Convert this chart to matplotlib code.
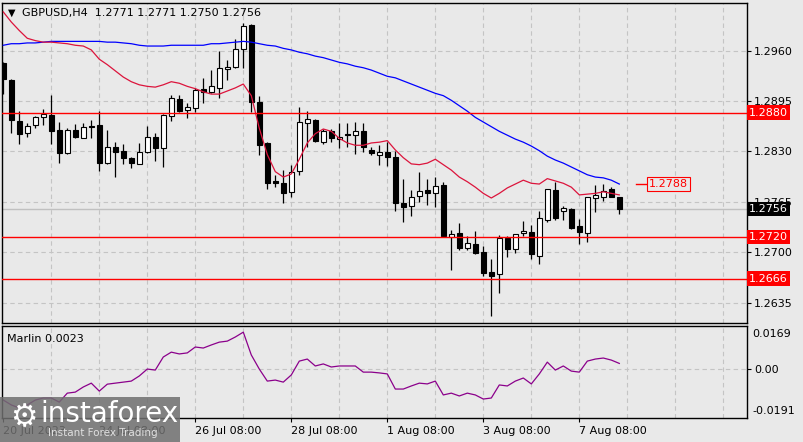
import matplotlib.pyplot as plt
from matplotlib.patches import Rectangle

# GBPUSD H4 candles
opens = [1.2944, 1.2922, 1.2869, 1.2854, 1.2864, 1.2874, 1.2877, 1.2858, 1.2828, 1.2858,
         1.2847, 1.2863, 1.2864, 1.2815, 1.2836, 1.2831, 1.2822, 1.2814, 1.2829, 1.2849,
         1.2835, 1.2876, 1.2898, 1.2884, 1.2886, 1.2911, 1.2907, 1.2912, 1.2936, 1.2939,
         1.2962, 1.2993, 1.2894, 1.2841, 1.2792, 1.2789, 1.2778, 1.2805, 1.2867, 1.2871,
         1.2842, 1.2856, 1.2846, 1.2853, 1.2851, 1.2856, 1.2832, 1.2826, 1.2829, 1.2823,
         1.2764, 1.2760, 1.2773, 1.2780, 1.2776, 1.2787, 1.2720, 1.2725, 1.2706, 1.2711,
         1.2700, 1.2675, 1.2672, 1.2718, 1.2704, 1.2725, 1.2726, 1.2695, 1.2742, 1.2780,
         1.2753, 1.2756, 1.2734, 1.2725, 1.2770, 1.2771, 1.2782, 1.2771]
highs = [1.2945, 1.2924, 1.2882, 1.2867, 1.2876, 1.2885, 1.2903, 1.2868, 1.2860, 1.2865,
         1.2867, 1.2871, 1.2882, 1.2858, 1.2842, 1.2840, 1.2823, 1.2841, 1.2863, 1.2854,
         1.2878, 1.2903, 1.2903, 1.2893, 1.2912, 1.2925, 1.2935, 1.2960, 1.2948, 1.2975,
         1.2996, 1.2994, 1.2902, 1.2842, 1.2800, 1.2806, 1.2813, 1.2887, 1.2882, 1.2872,
         1.2859, 1.2859, 1.2867, 1.2867, 1.2868, 1.2867, 1.2836, 1.2838, 1.2842, 1.2831,
         1.2795, 1.2780, 1.2804, 1.2795, 1.2797, 1.2791, 1.2729, 1.2738, 1.2721, 1.2727,
         1.2708, 1.2691, 1.2722, 1.2721, 1.2724, 1.2740, 1.2735, 1.2753, 1.2782, 1.2791,
         1.2760, 1.2757, 1.2743, 1.2771, 1.2787, 1.2788, 1.2784, 1.2771]
lows = [1.2904, 1.2854, 1.2840, 1.2849, 1.2860, 1.2864, 1.2840, 1.2815, 1.2827, 1.2847,
        1.2847, 1.2847, 1.2805, 1.2814, 1.2797, 1.2814, 1.2809, 1.2814, 1.2828, 1.2818,
        1.2810, 1.2869, 1.2881, 1.2873, 1.2881, 1.2893, 1.2905, 1.2899, 1.2922, 1.2938,
        1.2938, 1.2881, 1.2826, 1.2782, 1.2784, 1.2764, 1.2771, 1.2800, 1.2836, 1.2842,
        1.2840, 1.2842, 1.2835, 1.2836, 1.2827, 1.2829, 1.2826, 1.2813, 1.2811, 1.2753,
        1.2739, 1.2747, 1.2765, 1.2761, 1.2758, 1.2720, 1.2677, 1.2703, 1.2703, 1.2698,
        1.2669, 1.2618, 1.2648, 1.2694, 1.2699, 1.2721, 1.2691, 1.2685, 1.2739, 1.2742,
        1.2742, 1.2730, 1.2711, 1.2713, 1.2752, 1.2766, 1.2771, 1.2750]
closes = [1.2924, 1.2871, 1.2853, 1.2863, 1.2874, 1.2878, 1.2856, 1.2828, 1.2858, 1.2849,
          1.2862, 1.2862, 1.2815, 1.2836, 1.2829, 1.2822, 1.2815, 1.2829, 1.2849, 1.2835,
          1.2877, 1.2899, 1.2882, 1.2887, 1.2909, 1.2907, 1.2915, 1.2938, 1.2939, 1.2962,
          1.2992, 1.2894, 1.2838, 1.2789, 1.2790, 1.2776, 1.2804, 1.2868, 1.2872, 1.2844,
          1.2856, 1.2847, 1.2849, 1.2851, 1.2856, 1.2836, 1.2828, 1.2829, 1.2823, 1.2764,
          1.2758, 1.2771, 1.2779, 1.2776, 1.2785, 1.2721, 1.2724, 1.2706, 1.2712, 1.2699,
          1.2673, 1.2669, 1.2718, 1.2704, 1.2724, 1.2727, 1.2698, 1.2744, 1.2782, 1.2744,
          1.2757, 1.2731, 1.2726, 1.2771, 1.2774, 1.2779, 1.2771, 1.2756]

# moving averages on the price chart
ma_fast = [1.3010, 1.2997, 1.2986, 1.2976, 1.2973, 1.2971, 1.2971, 1.2970, 1.2969, 1.2967,
           1.2966, 1.2961, 1.2949, 1.2942, 1.2934, 1.2926, 1.2920, 1.2916, 1.2914, 1.2913,
           1.2916, 1.2920, 1.2918, 1.2914, 1.2911, 1.2907, 1.2904, 1.2904, 1.2908, 1.2912,
           1.2917, 1.2902, 1.2860, 1.2826, 1.2804, 1.2797, 1.2801, 1.2820, 1.2841, 1.2853,
           1.2859, 1.2856, 1.2847, 1.2841, 1.2838, 1.2838, 1.2841, 1.2842, 1.2844, 1.2832,
           1.2822, 1.2814, 1.2813, 1.2815, 1.2820, 1.2813, 1.2806, 1.2797, 1.2791, 1.2784,
           1.2776, 1.2770, 1.2776, 1.2783, 1.2788, 1.2793, 1.2789, 1.2788, 1.2795, 1.2792,
           1.2789, 1.2784, 1.2774, 1.2775, 1.2776, 1.2778, 1.2776, 1.2774]
ma_slow = [1.2967, 1.2969, 1.2969, 1.2970, 1.2970, 1.2971, 1.2972, 1.2972, 1.2972, 1.2972,
           1.2972, 1.2972, 1.2972, 1.2971, 1.2971, 1.2970, 1.2969, 1.2967, 1.2966, 1.2966,
           1.2966, 1.2967, 1.2967, 1.2967, 1.2967, 1.2967, 1.2969, 1.2969, 1.2970, 1.2971,
           1.2972, 1.2971, 1.2969, 1.2967, 1.2966, 1.2963, 1.2961, 1.2958, 1.2956, 1.2953,
           1.2951, 1.2948, 1.2945, 1.2943, 1.2940, 1.2938, 1.2935, 1.2931, 1.2927, 1.2925,
           1.2921, 1.2917, 1.2913, 1.2909, 1.2905, 1.2902, 1.2896, 1.2889, 1.2882, 1.2874,
           1.2868, 1.2862, 1.2856, 1.2851, 1.2846, 1.2842, 1.2837, 1.2831, 1.2824, 1.2819,
           1.2815, 1.2810, 1.2805, 1.2800, 1.2797, 1.2796, 1.2793, 1.2788]

# Marlin oscillator
marlin = [-0.0120, -0.0139, -0.0151, -0.0139, -0.0120, -0.0112, -0.0112, -0.0128, -0.0093, -0.0089,
          -0.0069, -0.0054, -0.0085, -0.0058, -0.0054, -0.0050, -0.0046, -0.0026, 0.0001, -0.0003,
          0.0048, 0.0067, 0.0060, 0.0064, 0.0087, 0.0083, 0.0095, 0.0106, 0.0110, 0.0126,
          0.0145, 0.0056, 0.0001, -0.0046, -0.0042, -0.0050, -0.0022, 0.0032, 0.0040, 0.0013,
          0.0021, 0.0009, 0.0013, 0.0013, 0.0013, -0.0011, -0.0011, -0.0014, -0.0018, -0.0077,
          -0.0077, -0.0065, -0.0054, -0.0057, -0.0046, -0.0100, -0.0093, -0.0104, -0.0093, -0.0100,
          -0.0116, -0.0112, -0.0061, -0.0065, -0.0046, -0.0034, -0.0057, -0.0018, 0.0028, -0.0003,
          0.0013, -0.0007, -0.0011, 0.0032, 0.0040, 0.0044, 0.0036, 0.0023]

levels = [1.2880, 1.2720, 1.2666]
last_price = 1.2756
ma_label = 1.2788
price_ticks = [1.2635, 1.2700, 1.2765, 1.2830, 1.2895, 1.2960]
date_pos = [0, 12, 24, 36, 48, 60, 72]
date_labels = ['20 Jul 2023', '24 Jul 08:00', '26 Jul 08:00', '28 Jul 08:00',
               '1 Aug 08:00', '3 Aug 08:00', '7 Aug 08:00']

bg = '#e9e9e9'
W, H = 804, 442


def box(l, t, r, b):
    return [l / W, 1 - b / H, (r - l) / W, (b - t) / H]


fig = plt.figure(figsize=(W / 100, H / 100), dpi=100, facecolor=bg)
ax = fig.add_axes(box(2, 3, 747, 323), facecolor=bg)
ax2 = fig.add_axes(box(2, 326, 747, 418), facecolor=bg)

x = list(range(len(opens)))
xlim = (-0.16, 92.96)

# candles
for i in x:
    o, h, l, c = opens[i], highs[i], lows[i], closes[i]
    ax.vlines(i, l, h, color='black', lw=0.9, zorder=2)
    if abs(c - o) < 0.00005:
        ax.hlines(o, i - 0.3, i + 0.3, color='black', lw=1, zorder=3)
    else:
        fc = 'white' if c > o else 'black'
        ax.add_patch(Rectangle((i - 0.28, min(o, c)), 0.56, abs(c - o),
                               facecolor=fc, edgecolor='black', lw=0.8, zorder=3))

ax.plot(x, ma_slow, color='#0000ff', lw=0.9, zorder=4)
ax.plot(x, ma_fast, color='#dc143c', lw=0.9, zorder=4)
for lv in levels:
    ax.axhline(lv, color='#ff0000', lw=1, zorder=5)
ax.axhline(last_price, color='#c0c0c0', lw=1, zorder=1)

# grid
for a in (ax, ax2):
    for g in range(6, 93, 6):
        a.axvline(g, color='#c4c4c4', lw=0.8, ls=(0, (4, 3)), zorder=0)
    a.set_xlim(*xlim)
    for s in a.spines.values():
        s.set_color('black')
        s.set_linewidth(1)
for p in price_ticks:
    ax.axhline(p, color='#c4c4c4', lw=0.8, ls=(0, (4, 3)), zorder=0)
ax2.axhline(0, color='#c4c4c4', lw=0.8, ls=(0, (4, 3)), zorder=0)

ax.set_ylim(1.26088, 1.30215)
ax.yaxis.tick_right()
ax.set_yticks(price_ticks)
ax.set_yticklabels(['%.4f' % p for p in price_ticks])
ax.tick_params(axis='y', length=3, width=0.8, labelsize=8, pad=2)
ax.set_xticks([])

# price labels on the right
for lv in levels:
    ax.text(1.003, lv, '%.4f' % lv, transform=ax.get_yaxis_transform(), color='white',
            fontsize=8, va='center', ha='left', clip_on=False, zorder=6,
            bbox=dict(facecolor='#ff0000', edgecolor='none', pad=1.6))
ax.text(1.003, last_price, '%.4f' % last_price, transform=ax.get_yaxis_transform(),
        color='white', fontsize=8, va='center', ha='left', clip_on=False, zorder=6,
        bbox=dict(facecolor='black', edgecolor='none', pad=1.6))

# MA value tag
ax.plot([79.1, 80.4], [ma_label, ma_label], color='#ff0000', lw=1, zorder=5)
ax.text(80.7, ma_label, '%.4f' % ma_label, color='#ff0000', fontsize=8, va='center',
        ha='left', zorder=6,
        bbox=dict(facecolor=bg, edgecolor='#ff0000', lw=0.8, pad=1.2))

# title
fig.text(8 / W, 1 - 13 / H, '\u25bc', fontsize=7, va='center', ha='left')
fig.text(22 / W, 1 - 13 / H, 'GBPUSD,H4  1.2771 1.2771 1.2750 1.2756', fontsize=8,
         va='center', ha='left')

# indicator panel
ax2.plot(x, marlin, color='#8b008b', lw=0.9)
ax2.set_ylim(-0.0190, 0.0169)
ax2.yaxis.tick_right()
ax2.set_yticks([0])
ax2.set_yticklabels(['0.00'])
ax2.tick_params(axis='y', length=3, width=0.8, labelsize=8, pad=2)
ax2.text(1.007, 0.91, '0.0169', transform=ax2.transAxes, fontsize=8, va='center', ha='left')
ax2.text(1.007, 0.08, '-0.0191', transform=ax2.transAxes, fontsize=8, va='center', ha='left')
ax2.text(0.007, 0.86, 'Marlin 0.0023', transform=ax2.transAxes, fontsize=8, va='center',
         ha='left')
ax2.set_xticks(date_pos)
ax2.set_xticklabels(date_labels, ha='left')
ax2.tick_params(axis='x', length=3, width=0.8, labelsize=8, pad=3)

# watermark
fig.patches.append(Rectangle((0, 0), 180 / W, 45 / H, transform=fig.transFigure,
                             facecolor='#6f6f6f', alpha=0.85, edgecolor='none', zorder=10))
fig.text(10 / W, 1 - 418 / H, '\u2699', fontsize=22, color='white', va='center',
         ha='left', zorder=11)
fig.text(40 / W, 1 - 414 / H, 'instaforex', fontsize=20, color='white', va='center',
         ha='left', zorder=11)
fig.text(48 / W, 1 - 433 / H, 'Instant Forex Trading', fontsize=7.5, color='#e0e0e0',
         va='center', ha='left', zorder=11)

fig.savefig('out.png', dpi=100, facecolor=bg)
